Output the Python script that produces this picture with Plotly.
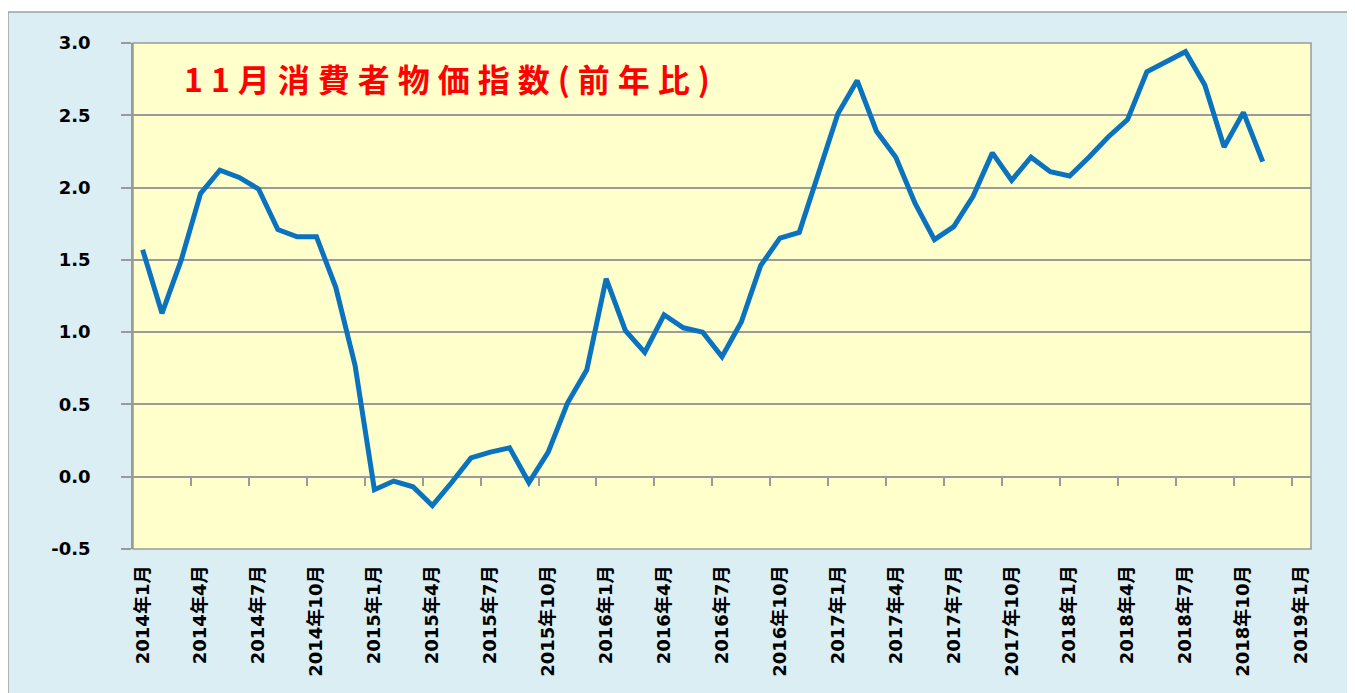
import plotly.graph_objects as go

# ---- data ----
title_text = "11月消費者物価指数(前年比)"
months = [f"{y}年{m}月" for y in range(2014, 2020) for m in range(1, 13)][:61]  # 2014年1月 .. 2019年1月
cpi_yoy = [1.57, 1.13, 1.50, 1.96, 2.12, 2.07, 1.99, 1.71, 1.66, 1.66, 1.31, 0.77,
           -0.09, -0.03, -0.07, -0.20, -0.04, 0.13, 0.17, 0.20, -0.04, 0.17, 0.51, 0.74,
           1.37, 1.01, 0.86, 1.12, 1.03, 1.00, 0.83, 1.07, 1.46, 1.65, 1.69, 2.10,
           2.51, 2.74, 2.39, 2.21, 1.89, 1.64, 1.73, 1.94, 2.24, 2.05, 2.21, 2.11,
           2.08, 2.21, 2.35, 2.47, 2.80, 2.87, 2.94, 2.71, 2.28, 2.52, 2.18]
y_ticks = [-0.5, 0.0, 0.5, 1.0, 1.5, 2.0, 2.5, 3.0]

label_step = 3
x_idx = list(range(len(cpi_yoy)))
label_pos = list(range(0, len(months), label_step))
label_text = [months[i] for i in label_pos]
tick_pos = [i - 0.5 for i in range(label_step, len(months), label_step)]

GRID = "#9a9a9a"
BLUE_BG = "#dbeef4"
PLOT_BG = "#ffffcc"
LINE = "#0b72be"

# the page body has an 8px margin, so the figure is drawn 8px in from the top-left
OFF = 8
W, H = 1355 - OFF, 693 - OFF
L, R, T, B = 133 - OFF, 44, 43 - OFF, 144
pw, ph = W - L - R, H - T - B


def px_x(px):  # page pixel -> paper x
    return (px - OFF - L) / pw


def px_y(py):  # page pixel -> paper y
    return (H - B - (py - OFF)) / ph


fig = go.Figure()
fig.add_trace(go.Scatter(x=x_idx, y=cpi_yoy, mode="lines",
                         line=dict(color=LINE, width=5),
                         showlegend=False, hoverinfo="x+y"))
# invisible trace to host the tick-mark axis that sits on y=0
fig.add_trace(go.Scatter(x=[0], y=[None], xaxis="x2", mode="lines",
                         showlegend=False, hoverinfo="skip"))

ymin, ymax = y_ticks[0], y_ticks[-1]
xr = [-0.5, len(months) - 0.5]

fig.update_layout(
    width=W, height=H,
    margin=dict(l=L, r=R, t=T, b=B),
    paper_bgcolor="white",
    plot_bgcolor="rgba(0,0,0,0)",
    xaxis=dict(range=xr, tickmode="array", tickvals=label_pos, ticktext=label_text,
               tickangle=-90, ticks="", showgrid=False, zeroline=False, showline=False,
               tickfont=dict(family="DejaVu Sans, Noto Sans CJK JP", size=18, color="black", weight="bold"),
               ticklabelstandoff=12),
    xaxis2=dict(range=xr, overlaying="x", anchor="free",
                position=(0 - ymin) / (ymax - ymin),
                tickmode="array", tickvals=tick_pos, ticks="outside", ticklen=8,
                tickcolor=GRID, tickwidth=1.5, showticklabels=False,
                showgrid=False, zeroline=False, showline=False),
    yaxis=dict(range=[ymin, ymax], tickmode="array", tickvals=y_ticks,
               ticktext=[f"{v:.1f}" for v in y_ticks],
               showgrid=True, gridcolor=GRID, gridwidth=1.5,
               zeroline=True, zerolinecolor=GRID, zerolinewidth=1.5,
               showline=True, linecolor=GRID, linewidth=1.5,
               ticks="outside", ticklen=10, tickcolor=GRID, tickwidth=1.5,
               tickfont=dict(family="DejaVu Sans", size=18, color="black", weight="bold"),
               ticklabelstandoff=27),
    shapes=[
        dict(type="rect", xref="paper", yref="paper", layer="below",
             x0=px_x(8), x1=px_x(1350), y0=px_y(720), y1=px_y(12),
             fillcolor=BLUE_BG, line=dict(color="#a0a0a0", width=1.5)),
        dict(type="rect", xref="paper", yref="paper", layer="below",
             x0=0, x1=1, y0=0, y1=1,
             fillcolor=PLOT_BG, line=dict(color=GRID, width=1.5)),
    ],
    annotations=[
        dict(xref="paper", yref="paper", x=px_x(182), y=px_y(78),
             xanchor="left", yanchor="middle", showarrow=False,
             text=f'<span style="letter-spacing:8px">{title_text}</span>',
             font=dict(family="Noto Sans CJK JP", size=32, color="#ff0000", weight="bold")),
    ],
)

fig.write_html("out.html")
